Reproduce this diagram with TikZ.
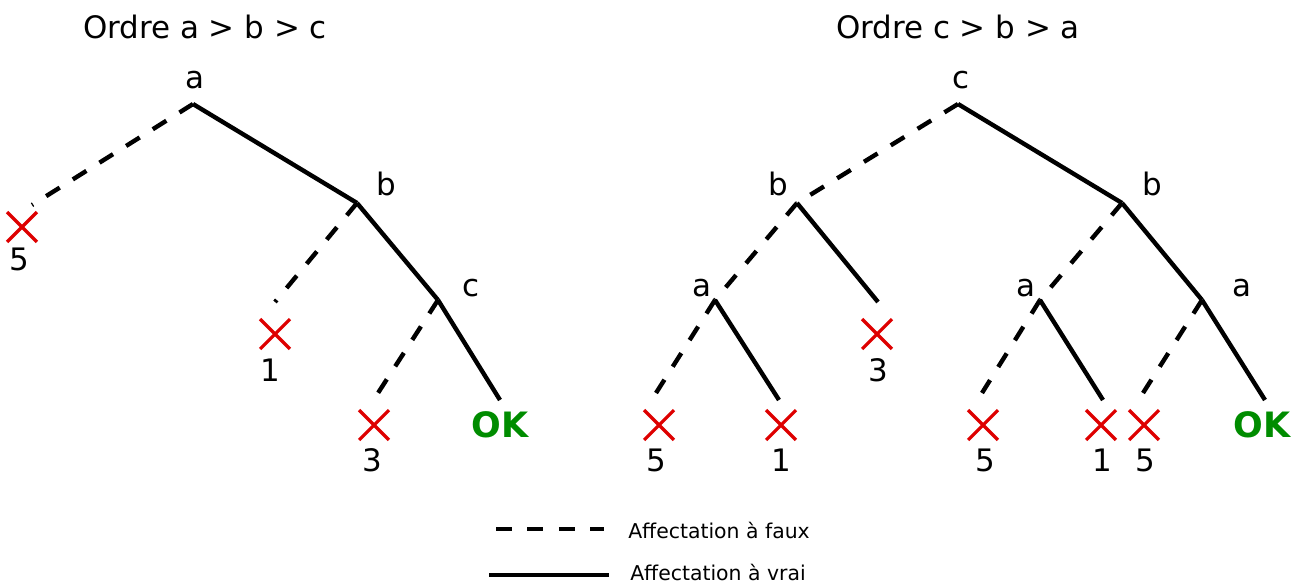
\documentclass[tikz,border=0pt]{standalone}
\usepackage{fontspec}
\setmainfont{DejaVu Sans}
\usetikzlibrary{shapes.misc}
\definecolor{croix}{RGB}{222,0,0}
\definecolor{vert}{RGB}{0,140,0}

\begin{document}
\begin{tikzpicture}[x=0.75pt,y=0.75pt,yscale=-1,xscale=1,
  faux/.style={line width=3.3pt,dash pattern=on 12pt off 11.6pt},
  vrai/.style={line width=3.3pt},
  echec/.style={cross out,draw=croix,line width=2.4pt,minimum size=20pt,inner sep=0pt},
  lettre/.style={font=\fontsize{23.2}{27}\selectfont,inner sep=0pt},
  legende/.style={font=\fontsize{15.3}{18}\selectfont,inner sep=0pt,anchor=west},
  ok/.style={font=\fontsize{26.2}{30}\selectfont\bfseries,text=vert,inner sep=0pt}]
\useasboundingbox (0,0) rectangle (1302,583);

% Titres
\node [lettre] (titreG) at (205,27) {Ordre a > b > c};
\node [lettre] (titreD) at (958,27) {Ordre c > b > a};

%Arbre gauche : ordre a > b > c
\coordinate (gA) at (193,104);
\coordinate (gB) at (357,203);
\coordinate (gC) at (438,300);
\coordinate (gF1) at (32,205);
\coordinate (gF2) at (275,302);
\coordinate (gF3) at (378,393);
\coordinate (gV3) at (500,400);
\node [lettre] (labA) at (195,80) {a};
\node [lettre] (labB) at (386,184) {b};
\node [lettre] (labC) at (471,288) {c};
\node [echec] (gX1) at (22,227) {};
\node [lettre] (gN1) at (19,259) {5};
\node [echec] (gX2) at (275,334) {};
\node [lettre] (gN2) at (270,370) {1};
\node [echec] (gX3) at (374,425) {};
\node [lettre] (gN3) at (372,460) {3};
\node [ok] (gOK) at (500,425) {OK};
\draw [faux] (gA) -- (gF1);
\draw [vrai] (gA) -- (gB);
\draw [faux] (gB) -- (gF2);
\draw [vrai] (gB) -- (gC);
\draw [faux] (gC) -- (gF3);
\draw [vrai] (gC) -- (gV3);

%Arbre droit : ordre c > b > a
\coordinate (dC) at (958,104);
\coordinate (dB1) at (797,203);
\coordinate (dB2) at (1122,203);
\coordinate (dA1) at (715,300);
\coordinate (dA2) at (1040,300);
\coordinate (dA3) at (1202,300);
\coordinate (dV1) at (878,302);
\coordinate (dF1) at (656,393);
\coordinate (dV2) at (779,400);
\coordinate (dF2) at (982,393);
\coordinate (dV3) at (1103,400);
\coordinate (dF3) at (1143,393);
\coordinate (dV4) at (1265,400);
\node [lettre] (labC2) at (961,80) {c};
\node [lettre] (labB1) at (778,184) {b};
\node [lettre] (labB2) at (1152,184) {b};
\node [lettre] (labA1) at (702,288) {a};
\node [lettre] (labA2) at (1026,288) {a};
\node [lettre] (labA3) at (1242,288) {a};
\node [echec] (dX1) at (877,334) {};
\node [lettre] (dN1) at (878,370) {3};
\node [echec] (dX2) at (659,425) {};
\node [lettre] (dN2) at (656,460) {5};
\node [echec] (dX3) at (781,425) {};
\node [lettre] (dN3) at (781,460) {1};
\node [echec] (dX4) at (983,425) {};
\node [lettre] (dN4) at (985,460) {5};
\node [echec] (dX5) at (1101,425) {};
\node [lettre] (dN5) at (1102,460) {1};
\node [echec] (dX6) at (1144,425) {};
\node [lettre] (dN6) at (1145,460) {5};
\node [ok] (dOK) at (1262,425) {OK};
\draw [faux] (dC) -- (dB1);
\draw [vrai] (dC) -- (dB2);
\draw [faux] (dB1) -- (dA1);
\draw [vrai] (dB1) -- (dV1);
\draw [faux] (dA1) -- (dF1);
\draw [vrai] (dA1) -- (dV2);
\draw [faux] (dB2) -- (dA2);
\draw [vrai] (dB2) -- (dA3);
\draw [faux] (dA2) -- (dF2);
\draw [vrai] (dA2) -- (dV3);
\draw [faux] (dA3) -- (dF3);
\draw [vrai] (dA3) -- (dV4);

%Legende
\coordinate (lF1) at (496,529);
\coordinate (lF2) at (604,529);
\coordinate (lV1) at (489,575);
\coordinate (lV2) at (609,575);
\draw [faux] (lF1) -- (lF2);
\draw [vrai] (lV1) -- (lV2);
\node [legende] (txtF) at (628,530) {Affectation à faux};
\node [legende] (txtV) at (630,572) {Affectation à vrai};
\end{tikzpicture}
\end{document}
